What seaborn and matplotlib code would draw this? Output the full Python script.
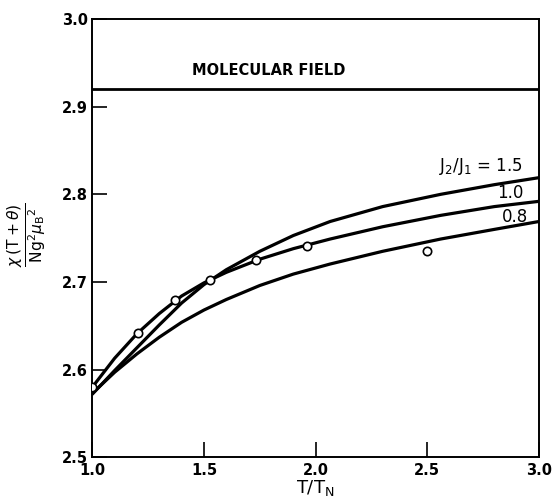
import matplotlib
matplotlib.use("Agg")
import matplotlib.pyplot as plt
import seaborn as sns
import pandas as pd

# ---- data ----
t_curve = [1.0, 1.1, 1.2, 1.3, 1.4, 1.5, 1.6, 1.75, 1.9, 2.065, 2.3, 2.56, 2.8, 3.0]
chi_15 = [2.572, 2.599, 2.625, 2.651, 2.676, 2.697, 2.714, 2.735, 2.753, 2.769, 2.786, 2.800, 2.811, 2.819]
chi_10 = [2.580, 2.613, 2.641, 2.664, 2.684, 2.699, 2.711, 2.726, 2.738, 2.749, 2.763, 2.776, 2.786, 2.792]
chi_08 = [2.573, 2.597, 2.618, 2.637, 2.654, 2.668, 2.680, 2.696, 2.709, 2.7205, 2.735, 2.749, 2.760, 2.769]
ratios = ["1.5", "1.0", "0.8"]

t_obs = [1.0, 1.203, 1.372, 1.528, 1.732, 1.960, 2.498]
chi_obs = [2.580, 2.6415, 2.680, 2.7026, 2.7247, 2.7407, 2.7353]

molecular_field = 2.92

xticks = [1.0, 1.5, 2.0, 2.5, 3.0]
yticks = [2.5, 2.6, 2.7, 2.8, 2.9, 3.0]

# ---- build long table ----
rows = []
for r, vals in zip(ratios, [chi_15, chi_10, chi_08]):
    for t, v in zip(t_curve, vals):
        rows.append({"T": t, "chi": v, "ratio": r})
df = pd.DataFrame(rows)
obs = pd.DataFrame({"T": t_obs, "chi": chi_obs})

sns.set_style("ticks")
plt.rcParams["font.family"] = ["DejaVu Sans"]
plt.rcParams["mathtext.fontset"] = "dejavusans"
for key in ["text.color", "axes.labelcolor", "xtick.color", "ytick.color",
            "xtick.labelcolor", "ytick.labelcolor"]:
    plt.rcParams[key] = "black"

fig = plt.figure(figsize=(5.52, 4.99), dpi=100)
W, H = 552, 499
left, right, top, bottom = 92.3, 539.0, 19.0, 457.3
ax = fig.add_axes([left / W, 1 - bottom / H, (right - left) / W, (bottom - top) / H])

sns.lineplot(data=df, x="T", y="chi", hue="ratio",
             palette={r: "black" for r in ratios}, legend=False,
             linewidth=2.3, ax=ax, zorder=2)
ax.axhline(molecular_field, color="black", linewidth=2.0, zorder=2)
sns.scatterplot(data=obs, x="T", y="chi", s=36, facecolor="white",
                edgecolor="black", linewidth=1.2, ax=ax, zorder=3)

ax.set_xlim(1.0, 3.0)
ax.set_ylim(2.5, 3.0)
ax.set_xticks(xticks)
ax.set_yticks(yticks)
ax.set_xticklabels([f"{v:.1f}" for v in xticks], fontsize=10.5, fontweight="bold")
ax.set_yticklabels([f"{v:.1f}" for v in yticks], fontsize=10.5, fontweight="bold")
ax.tick_params(axis="both", direction="in", length=11, width=1.2, color="black",
               labelcolor="black", top=False, right=False)
ax.tick_params(axis="y", pad=3)
ax.tick_params(axis="x", pad=4)
for sp in ax.spines.values():
    sp.set_linewidth(1.4)
    sp.set_color("black")

ax.set_xlabel(r"T/T$_\mathregular{N}$", fontsize=13, labelpad=0, color="black")
ax.set_ylabel(r"$\frac{\chi\,(\mathrm{T}+\theta)}{\mathrm{Ng}^2\mu_\mathrm{B}{}^2}$",
              fontsize=16, va="center", ha="center", color="black")
ax.yaxis.set_label_coords((27 - left) / (right - left), (bottom - 235) / (bottom - top))

ax.text(1.79, 2.9407, "MOLECULAR FIELD", ha="center", va="center",
        fontsize=10.5, fontweight="bold", color="black")
ax.text(2.93, 2.8316, r"J$_2$/J$_1$ = 1.5", ha="right", va="center", fontsize=12, color="black")
ax.text(2.93, 2.8015, "1.0", ha="right", va="center", fontsize=12, color="black")
ax.text(2.95, 2.7745, "0.8", ha="right", va="center", fontsize=12, color="black")

fig.savefig("out.png", dpi=100)
